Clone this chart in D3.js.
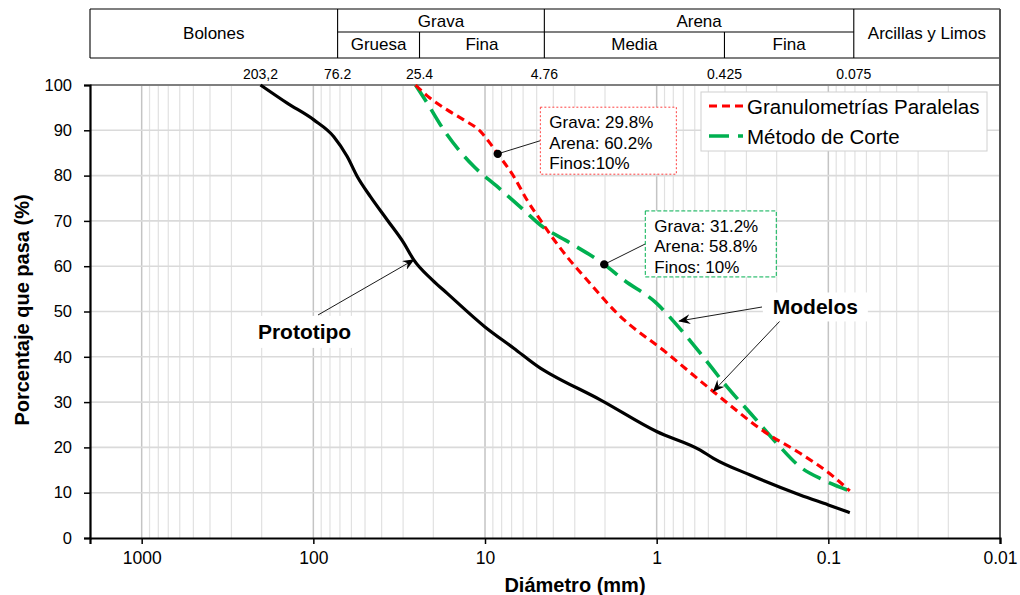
<!DOCTYPE html>
<html><head><meta charset="utf-8">
<script src="https://cdn.jsdelivr.net/npm/d3@7"></script>
<style>
body{margin:0;background:#fff;}
text{font-family:"Liberation Sans",Arial,sans-serif;fill:#000;}
</style></head>
<body><svg id="c" width="1020" height="595"></svg>
<script>
// ---------- DATA ----------
const prototipoD = [203.2, 142, 99.3, 76, 63.5, 55.5, 46.4, 37.1, 29.7, 26.0, 20.3, 16.6, 10, 6.8, 4.76, 4.16, 2.13, 1.0, 0.557, 0.467, 0.285, 0.146, 0.1, 0.075];
const prototipoP = [100, 96.0, 92.3, 88.6, 84.2, 79.8, 75.3, 70.2, 65.1, 61.4, 57.0, 54.0, 46.6, 41.9, 37.5, 36.2, 30.5, 23.5, 19.4, 17.6, 13.9, 9.5, 7.3, 5.6];
const paralelasD = [25.4, 21.7, 16.6, 13.3, 10.6, 9.5, 8.43, 6.8, 5.69, 4.76, 4.35, 3.33, 2.55, 1.70, 0.871, 0.467, 0.228, 0.146, 0.093, 0.075];
const paralelasP = [100, 97.6, 94.5, 92.3, 89.7, 87.5, 84.8, 79.8, 74.6, 70.2, 68.0, 62.1, 57.0, 49.6, 40.8, 32.3, 23.1, 18.7, 13.5, 10.4];
const corteD = [25.4, 21.7, 17.4, 11.6, 8.5, 5.95, 4.76, 3.18, 2.02, 1.56, 1.0, 0.762, 0.557, 0.390, 0.273, 0.1995, 0.146, 0.1067, 0.075];
const corteP = [100, 96.0, 90.1, 82.0, 77.6, 72.4, 69.1, 65.1, 60.4, 57.0, 51.8, 47.0, 40.8, 33.4, 26.8, 20.9, 15.7, 12.8, 10.4];
const xTicks = [1000, 100, 10, 1, 0.1, 0.01];
const xTickLabels = ["1000", "100", "10", "1", "0.1", "0.01"];
const yTicks = [0, 10, 20, 30, 40, 50, 60, 70, 80, 90, 100];
const sieveSizes = [203.2, 76.2, 25.4, 4.76, 0.425, 0.075];
const sieveLabels = ["203,2", "76.2", "25.4", "4.76", "0.425", "0.075"];
const seriesNames = ["Granulometrías Paralelas", "Método de Corte"];
const noteRed = ["Grava: 29.8%", "Arena: 60.2%", "Finos:10%"];
const noteGreen = ["Grava: 31.2%", "Arena: 58.8%", "Finos: 10%"];
const pointRed = [8.43, 84.8];
const pointGreen = [2.02, 60.4];

// ---------- SCALES ----------
const svg = d3.select("#c");
const L = 90, R = 1000, T = 85, B = 538;
const x = d3.scaleLog().domain([2000, 0.01]).range([L, R]);
const y = d3.scaleLinear().domain([0, 100]).range([B, T]);

// ---------- GRID ----------
const grid = svg.append("g");
const vgrid = [];
for (let k = -2; k <= 3; k++) for (let m = 1; m <= 9; m++) {
  const v = m * Math.pow(10, k);
  if (v >= 0.01 && v <= 2000) vgrid.push({v, major: m === 1});
}
grid.selectAll("line.v").data(vgrid).join("line")
  .attr("x1", d => x(d.v)).attr("x2", d => x(d.v)).attr("y1", T).attr("y2", B)
  .attr("stroke", d => d.major ? "#c4c4c4" : "#e1e1e1").attr("stroke-width", d => d.major ? 1.5 : 1.2);
grid.selectAll("line.h").data(yTicks.filter(t => t > 0 && t < 100)).join("line")
  .attr("x1", L).attr("x2", R).attr("y1", d => y(d)).attr("y2", d => y(d))
  .attr("stroke", "#dadada").attr("stroke-width", 1.6);
svg.append("line").attr("x1", L).attr("x2", R).attr("y1", y(100)).attr("y2", y(100))
  .attr("stroke", "#7f7f7f").attr("stroke-width", 2);

// ---------- HEADER ----------
const hs = 4;
const hx = v => x(v) + hs;
const H = svg.append("g").attr("stroke", "#000").attr("stroke-width", 1.1);
H.append("line").attr("x1", L).attr("x2", R).attr("y1", 9).attr("y2", 9);
H.append("line").attr("x1", L).attr("x2", R).attr("y1", 58).attr("y2", 58);
H.append("line").attr("x1", hx(76.2)).attr("x2", hx(0.075)).attr("y1", 32).attr("y2", 32);
H.append("line").attr("x1", L).attr("x2", L).attr("y1", 9).attr("y2", 58);
[76.2, 4.76, 0.075].forEach(v => H.append("line").attr("x1", hx(v)).attr("x2", hx(v)).attr("y1", 9).attr("y2", 58));
[25.4, 0.425].forEach(v => H.append("line").attr("x1", hx(v)).attr("x2", hx(v)).attr("y1", 32).attr("y2", 58));
svg.append("line").attr("x1", R).attr("x2", R).attr("y1", 9).attr("y2", B).attr("stroke", "#555").attr("stroke-width", 2);

const htext = (cx, cy, s, fs) => svg.append("text").attr("x", cx).attr("y", cy)
  .attr("text-anchor", "middle").attr("dominant-baseline", "central").attr("font-size", fs).text(s);
const hf = 17;
htext((L + hx(76.2)) / 2, 33, "Bolones", hf);
htext((hx(76.2) + hx(4.76)) / 2, 21, "Grava", hf);
htext((hx(4.76) + hx(0.075)) / 2, 21, "Arena", hf);
htext((hx(0.075) + R) / 2, 33, "Arcillas y Limos", hf);
htext((hx(76.2) + hx(25.4)) / 2, 44.5, "Gruesa", hf);
htext((hx(25.4) + hx(4.76)) / 2, 44.5, "Fina", hf);
htext((hx(4.76) + hx(0.425)) / 2, 44.5, "Media", hf);
htext((hx(0.425) + hx(0.075)) / 2, 44.5, "Fina", hf);
sieveSizes.forEach((v, i) => htext(hx(v) - (i === 0 ? 4 : 0), 74, sieveLabels[i], 14));

// ---------- AXES ----------
const xa = svg.append("g").attr("transform", `translate(0,${B})`)
  .call(d3.axisBottom(x).tickValues(xTicks).tickFormat((d, i) => xTickLabels[i]).tickSize(6).tickPadding(8));
xa.select(".domain").attr("stroke", "#000").attr("stroke-width", 2.2);
xa.selectAll(".tick line").attr("stroke", "#000").attr("stroke-width", 1.5);
xa.selectAll(".tick text").attr("font-size", 17.5).attr("font-family", "Liberation Sans, Arial, sans-serif");
const ya = svg.append("g").attr("transform", `translate(${L},0)`)
  .call(d3.axisLeft(y).tickValues(yTicks).tickSize(6).tickPadding(12));
ya.select(".domain").attr("stroke", "#000").attr("stroke-width", 2.2);
ya.selectAll(".tick line").attr("stroke", "#000").attr("stroke-width", 1.5);
ya.selectAll(".tick text").attr("font-size", 16.5).attr("font-family", "Liberation Sans, Arial, sans-serif");

svg.append("text").attr("x", 575).attr("y", 585).attr("text-anchor", "middle").attr("dominant-baseline", "central")
  .attr("font-size", 20).attr("font-weight", "bold").text("Diámetro (mm)");
svg.append("text").attr("transform", "translate(22,310) rotate(-90)").attr("text-anchor", "middle")
  .attr("dominant-baseline", "central").attr("font-size", 20).attr("font-weight", "bold").text("Porcentaje que pasa (%)");

// ---------- CURVES ----------
const line = d3.line().x(d => x(d[0])).y(d => y(d[1])).curve(d3.curveMonotoneX);
const zip = (a, b) => a.map((v, i) => [v, b[i]]);
svg.append("path").attr("d", line(zip(prototipoD, prototipoP))).attr("fill", "none")
  .attr("stroke", "#000").attr("stroke-width", 3.2);
svg.append("path").attr("d", line(zip(corteD, corteP))).attr("fill", "none")
  .attr("stroke", "#00B050").attr("stroke-width", 3.6).attr("stroke-dasharray", "20,9");
svg.append("path").attr("d", line(zip(paralelasD, paralelasP))).attr("fill", "none")
  .attr("stroke", "#FF0000").attr("stroke-width", 3.1).attr("stroke-dasharray", "8,5");

// ---------- MARKERS ----------
const defs = svg.append("defs");
defs.append("marker").attr("id", "arr").attr("viewBox", "0 0 12 10").attr("refX", 11).attr("refY", 5)
  .attr("markerWidth", 12).attr("markerHeight", 10).attr("markerUnits", "userSpaceOnUse").attr("orient", "auto")
  .append("path").attr("d", "M0,0 L12,5 L0,10 L4,5 Z").attr("fill", "#000");

// ---------- NOTE BOXES ----------
function note(pt, boxD, boxP, w, h, lines, col, dash) {
  const bx = x(boxD), by = y(boxP);
  svg.append("line").attr("x1", x(pt[0])).attr("y1", y(pt[1])).attr("x2", bx).attr("y2", by + h / 2)
    .attr("stroke", "#000").attr("stroke-width", 0.9);
  svg.append("rect").attr("x", bx).attr("y", by).attr("width", w).attr("height", h)
    .attr("fill", "#fff").attr("stroke", col).attr("stroke-width", 1).attr("stroke-dasharray", dash);
  lines.forEach((s, i) => svg.append("text").attr("x", bx + 9).attr("y", by + 15.5 + i * 20.5)
    .attr("dominant-baseline", "central").attr("font-size", 17).text(s));
  svg.append("circle").attr("cx", x(pt[0])).attr("cy", y(pt[1])).attr("r", 4.2).attr("fill", "#000");
}
note(pointRed, 4.76, 95.1, 136, 67, noteRed, "#FF4040", "2,2");
note(pointGreen, 1.165, 72.2, 131, 66, noteGreen, "#00B050", "4,2");

// ---------- LEGEND ----------
const lg = svg.append("g");
lg.append("rect").attr("x", 701).attr("y", 92).attr("width", 286).attr("height", 59)
  .attr("fill", "#fff").attr("stroke", "#d0d0d0").attr("stroke-width", 1);
const lgStyle = [{c: "#FF0000", w: 3, d: "8,5"}, {c: "#00B050", w: 3.5, d: "20,9"}];
seriesNames.forEach((s, i) => {
  const yy = 106 + i * 30;
  lg.append("line").attr("x1", 709).attr("x2", 743).attr("y1", yy).attr("y2", yy)
    .attr("stroke", lgStyle[i].c).attr("stroke-width", lgStyle[i].w).attr("stroke-dasharray", lgStyle[i].d);
  lg.append("text").attr("x", 747).attr("y", yy).attr("dominant-baseline", "central").attr("font-size", 20.5).text(s);
});

// ---------- LABELS WITH ARROWS ----------
function callout(tx, ty, label, bw, bh, arrows) {
  arrows.forEach(a => svg.append("line").attr("x1", a[0]).attr("y1", a[1]).attr("x2", x(a[2])).attr("y2", y(a[3]))
    .attr("stroke", "#000").attr("stroke-width", 0.9).attr("marker-end", "url(#arr)"));
  svg.append("rect").attr("x", x(tx) - bw / 2).attr("y", y(ty) - bh / 2).attr("width", bw).attr("height", bh).attr("fill", "#fff");
  svg.append("text").attr("x", x(tx)).attr("y", y(ty)).attr("text-anchor", "middle").attr("dominant-baseline", "central")
    .attr("font-size", 21).attr("font-weight", "bold").text(label);
}
callout(112.5, 45.5, "Prototipo", 106, 32, [[318, 315, 26.0, 61.4]]);
callout(0.119, 51, "Modelos", 105, 29, [[762, 307, 0.739, 47.9], [780, 321, 0.467, 32.4]]);
</script></body></html>
